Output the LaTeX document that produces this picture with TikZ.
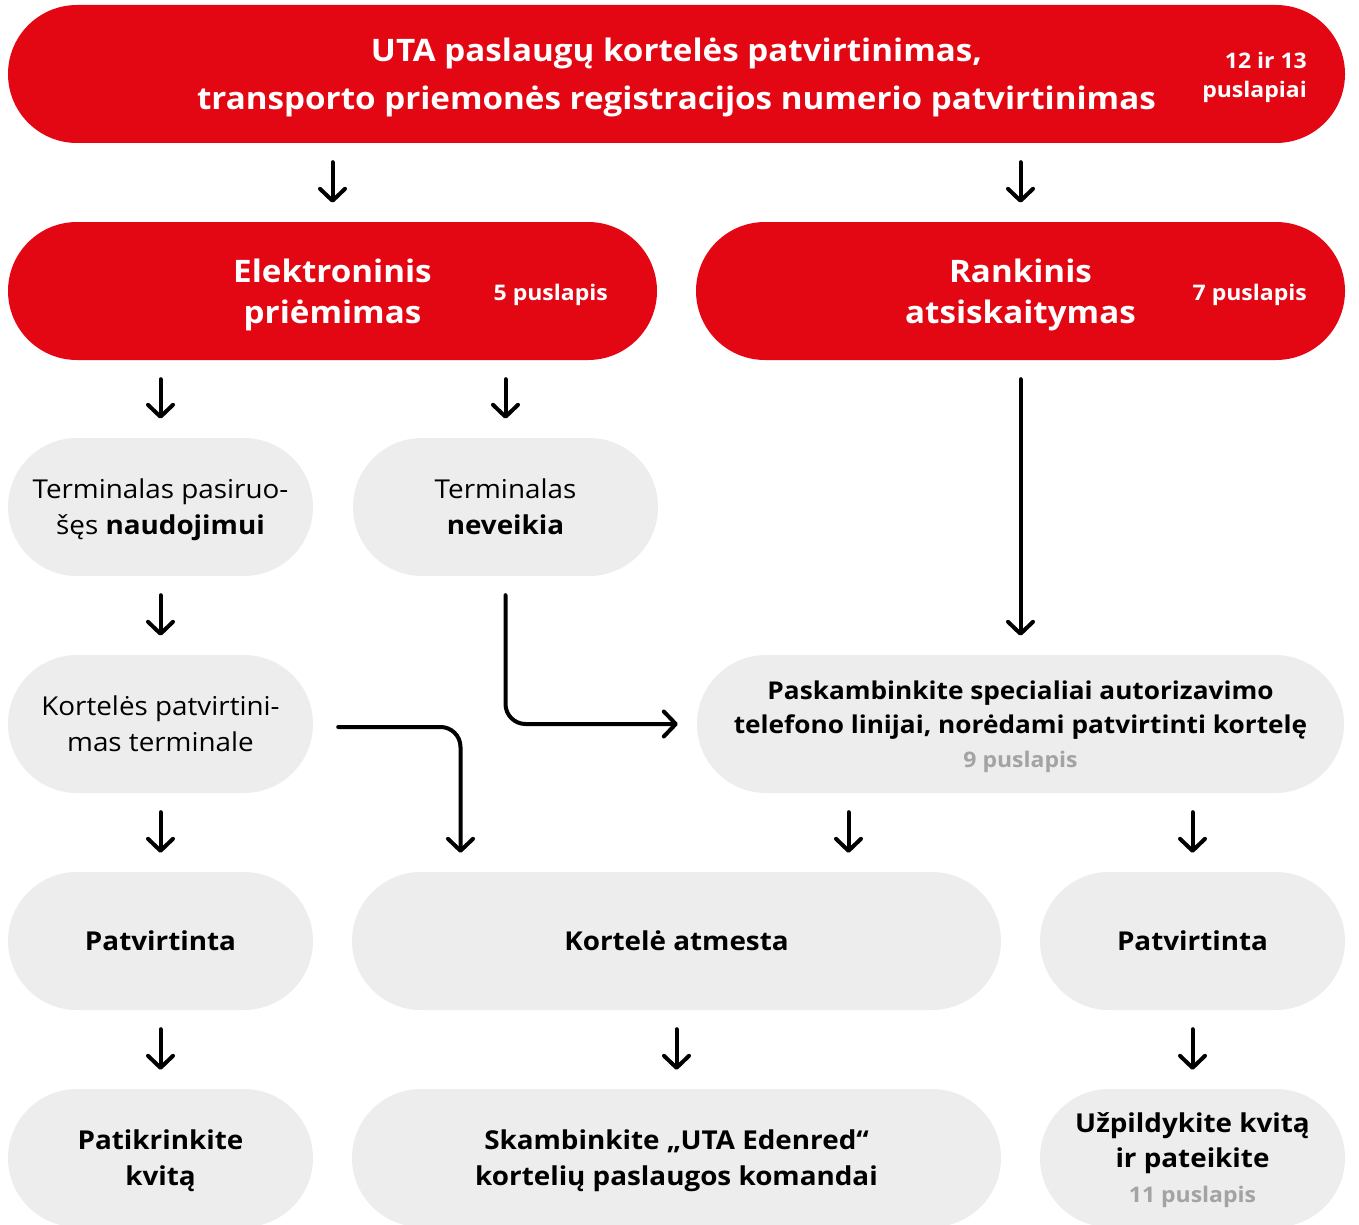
\documentclass[tikz,border=0pt]{standalone}
\usepackage{fontspec}
\setmainfont{Open Sans}[FakeStretch=1.07]
\usepackage{tikz}
\usetikzlibrary{positioning,arrows.meta}
\usepackage{xcolor}
\definecolor{utared}{RGB}{227,6,19}
\definecolor{boxgray}{RGB}{237,237,237}
\definecolor{pagegray}{RGB}{163,163,163}
\tikzstyle{redbox}=[rectangle, fill=utared, rounded corners=69pt, minimum height=138pt, inner sep=0pt, text depth=0pt,
text centered, text=white, align=center, font=\bfseries\fontsize{31}{41}\selectfont]
\tikzstyle{graybox}=[rectangle, fill=boxgray, rounded corners=69pt, minimum height=138pt, minimum width=305pt, inner sep=0pt,
text depth=0pt, text centered, text=black, align=center, font=\fontsize{26}{36}\selectfont]
\tikzstyle{pagelabel}=[text=white, anchor=east, align=right, inner sep=0pt, font=\bfseries\fontsize{21.5}{29}\selectfont]
\tikzstyle{flow}=[-{Straight Barb[length=12pt,width=25pt,round]}, line width=4pt, line cap=round,
shorten <=19pt, shorten >=19pt]

\begin{document}
\begin{tikzpicture}[x=1pt,y=-1pt]
            \useasboundingbox (0,0) rectangle (1359,1225);
            \node (1)[redbox, minimum width=1337pt, font=\bfseries\fontsize{31}{48}\selectfont] at (676.5,74)
                {UTA paslaugų kortelės patvirtinimas,\\transporto priemonės registracijos numerio patvirtinimas};
            \node (1p)[pagelabel] at (1307,77) {12 ir 13\\puslapiai};
            \node (2)[redbox, minimum width=649pt] at (332.5,291) {Elektroninis\\priėmimas};
            \node (2p)[pagelabel] at (608,295) {5 puslapis};
            \node (3)[redbox, minimum width=649pt] at (1020.5,291) {Rankinis\\atsiskaitymas};
            \node (3p)[pagelabel] at (1307,295) {7 puslapis};

            \node (4)[graybox] at (160.5,507) {Terminalas pasiruo-\\šęs \textbf{naudojimui}};
            \node (5)[graybox] at (505.5,507) {Terminalas\\\textbf{neveikia}};
            \node (6)[graybox] at (160.5,724) {Kortelės patvirtini-\\mas terminale};
            \node (7)[graybox, minimum width=647pt, font=\bfseries\fontsize{24.5}{34}\selectfont] at (1020.5,724)
                {Paskambinkite specialiai autorizavimo\\telefono linijai, norėdami patvirtinti kortelę\\
                 {\color{pagegray}\fontsize{21.5}{34}\selectfont 9 puslapis}};

            \node (8)[graybox, font=\bfseries\fontsize{26}{36}\selectfont] at (160.5,941) {Patvirtinta};
            \node (9)[graybox, minimum width=649pt, font=\bfseries\fontsize{26}{36}\selectfont] at (676.5,941) {Kortelė atmesta};
            \node (10)[graybox, font=\bfseries\fontsize{26}{36}\selectfont] at (1192.5,941) {Patvirtinta};

            \node (11)[graybox, font=\bfseries\fontsize{26}{36}\selectfont] at (160.5,1158) {Patikrinkite\\kvitą};
            \node (12)[graybox, minimum width=649pt, font=\bfseries\fontsize{26}{36}\selectfont] at (676.5,1158)
                {Skambinkite „UTA Edenred“\\kortelių paslaugos komandai};
            \node (13)[graybox, font=\bfseries\fontsize{26}{35}\selectfont] at (1192.5,1158)
                {Užpildykite kvitą\\ir pateikite\\{\color{pagegray}\fontsize{21.5}{35}\selectfont 11 puslapis}};

            \draw[flow] (1.south -| 2) -- (2);
            \draw[flow] (1.south -| 3) -- (3);
            \draw[flow] (2.south -| 4) -- (4);
            \draw[flow] (2.south -| 5) -- (5);
            \draw[flow] (3) -- (7);
            \draw[flow] (4) -- (6);
            \draw[flow, rounded corners=20pt] (5.south) |- (7.west);
            \draw[flow, rounded corners=20pt, shorten <=25pt] ([yshift=-3pt]6.east) -| ([xshift=-216pt]9.north);
            \draw[flow] (6) -- (8);
            \draw[flow] ([xshift=-172pt]7.south) -- ([xshift=172pt]9.north);
            \draw[flow] (7.south -| 10) -- (10);
            \draw[flow] (8) -- (11);
            \draw[flow] (9) -- (12);
            \draw[flow] (10) -- (13);
        \end{tikzpicture}
\end{document}
